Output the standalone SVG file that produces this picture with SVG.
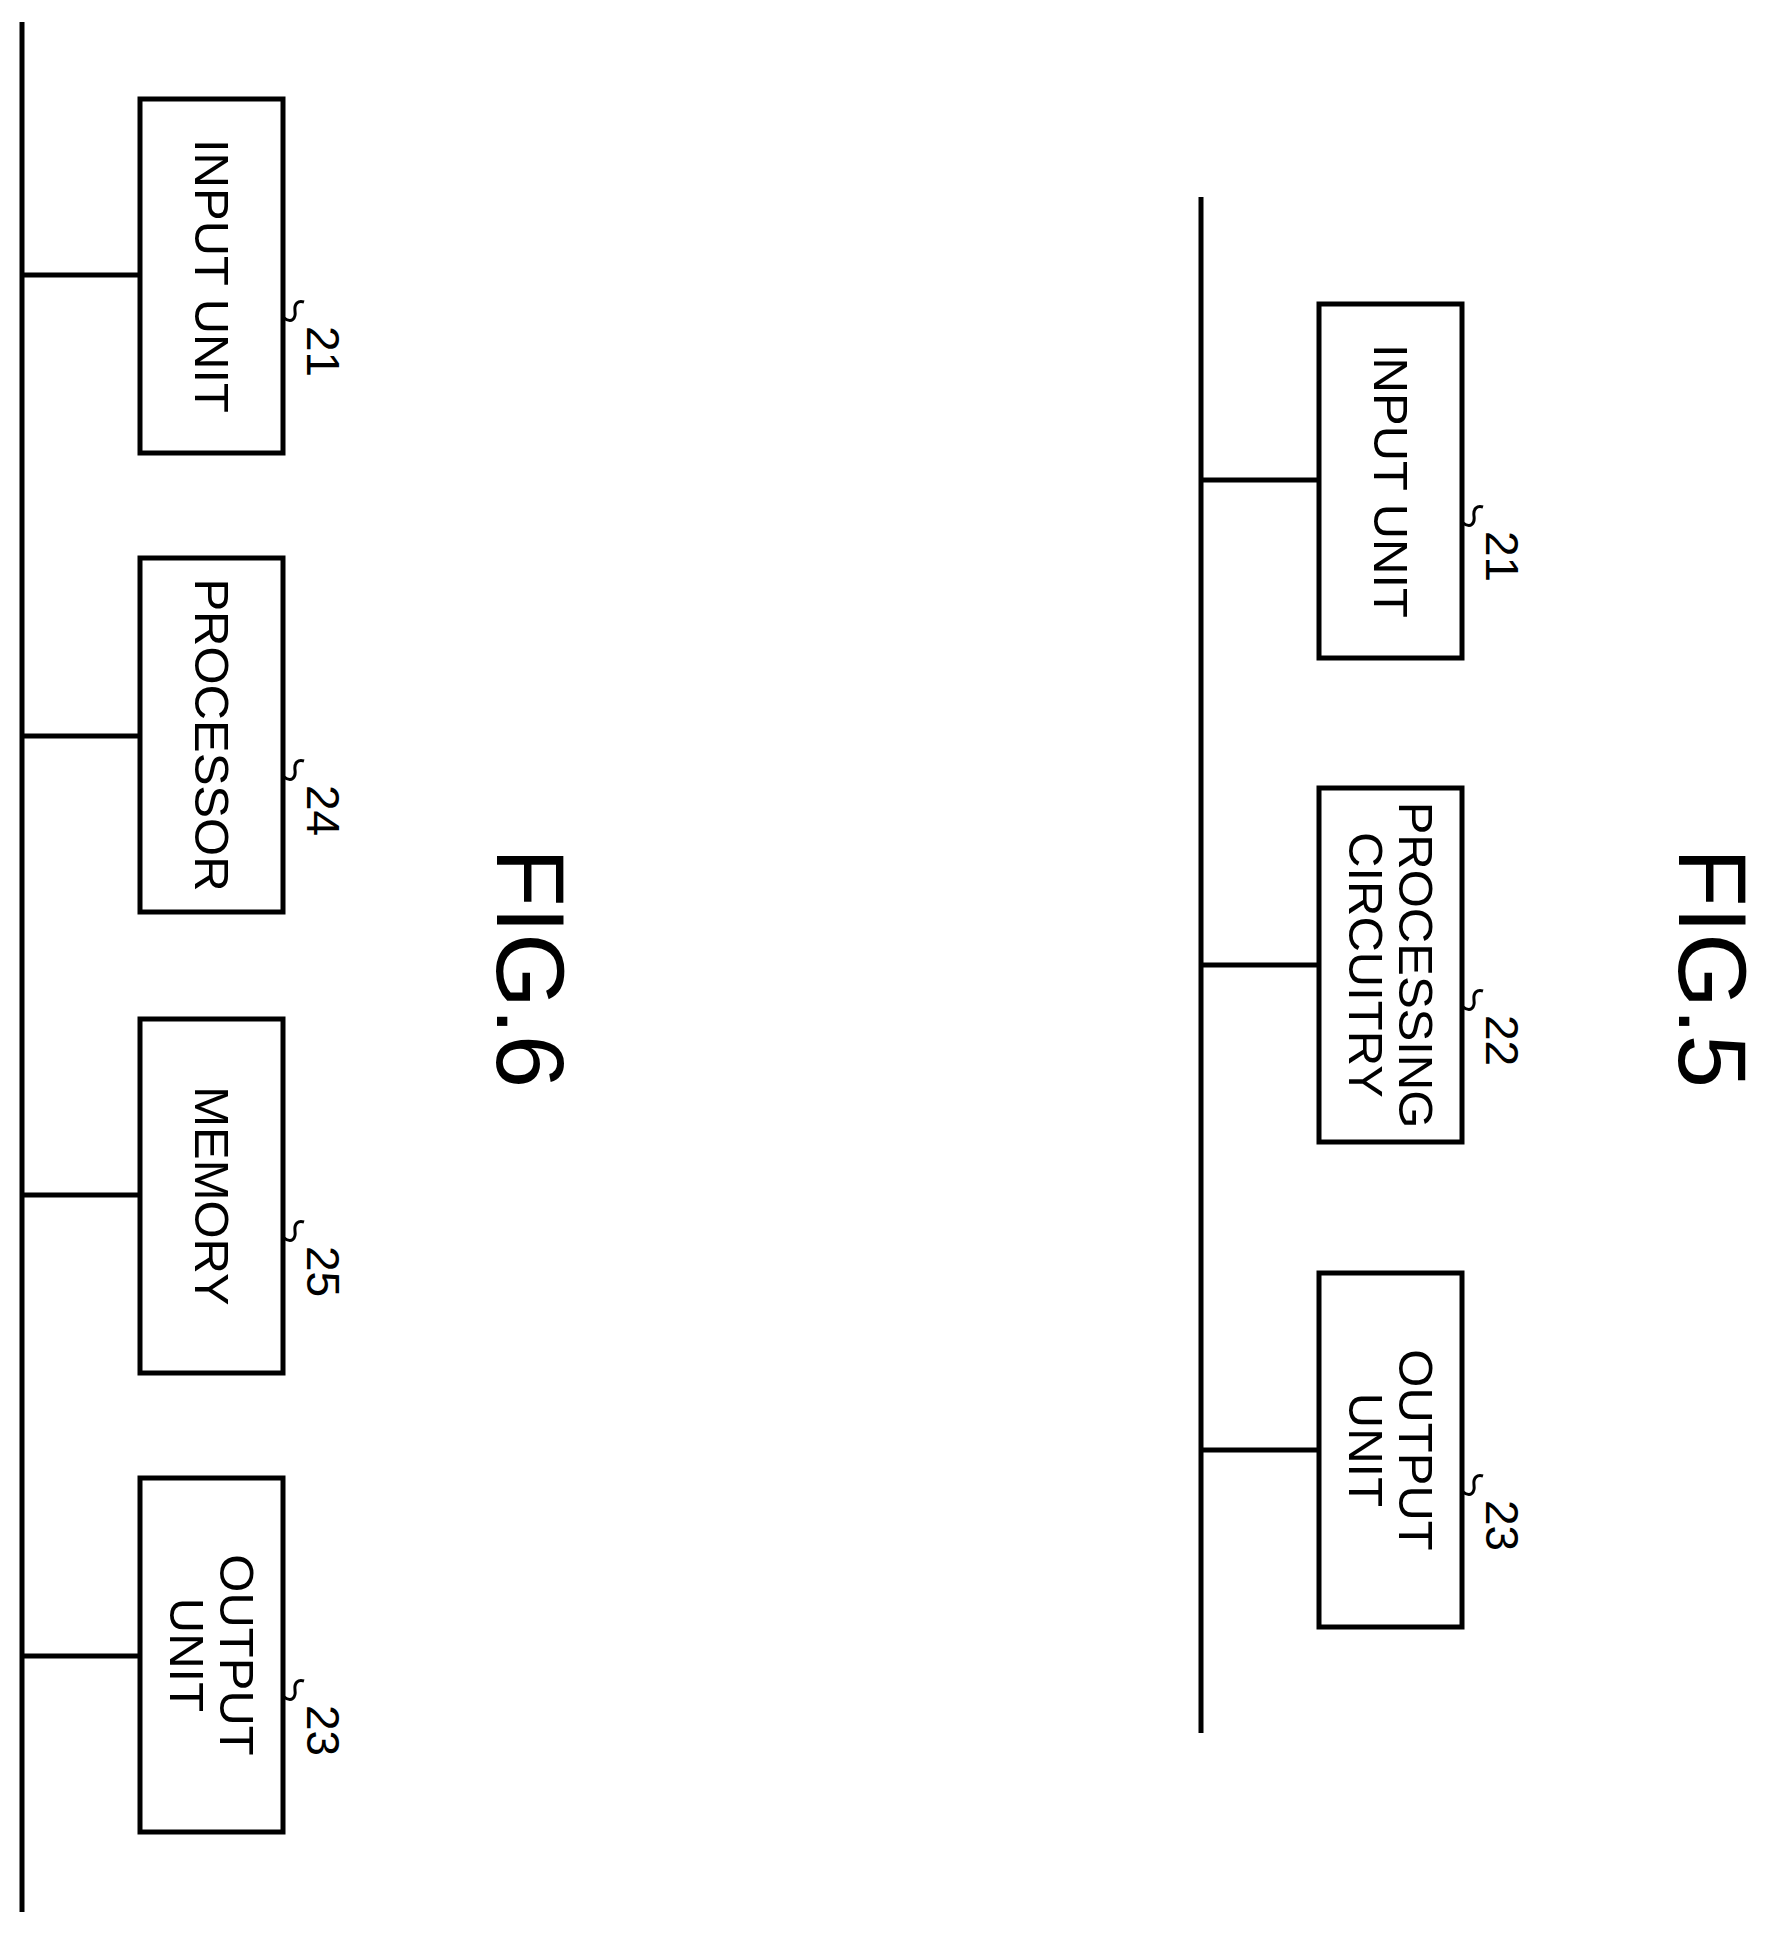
<svg xmlns="http://www.w3.org/2000/svg" width="1774" height="1935" viewBox="0 0 1774 1935">
<style>
.b{fill:#fff;stroke:#000;stroke-width:5}
.l{stroke:#000;stroke-width:5;fill:none}
.s{stroke:#000;stroke-width:3;fill:none}
.t{font-family:"Liberation Sans",Arial,sans-serif;font-size:49px;text-anchor:middle;dominant-baseline:central}
.n{font-family:"Liberation Sans",Arial,sans-serif;font-size:46px;dominant-baseline:central}
.f{font-family:"Liberation Sans",Arial,sans-serif;font-size:96px;text-anchor:middle;dominant-baseline:central}
</style>
<defs><path id="sq" class="s" d="M0,16 C8,22 12,16 11,9 C10,2 14,-2 20,0"/></defs>
<rect width="1774" height="1935" fill="#fff"/>
<g id="connectors">
<line class="l" x1="22" y1="22" x2="22" y2="1912"/>
<line class="l" x1="22" y1="275" x2="140" y2="275"/>
<line class="l" x1="22" y1="736" x2="140" y2="736"/>
<line class="l" x1="22" y1="1195" x2="140" y2="1195"/>
<line class="l" x1="22" y1="1656" x2="140" y2="1656"/>
<line class="l" x1="1201" y1="197" x2="1201" y2="1733"/>
<line class="l" x1="1201" y1="480" x2="1319" y2="480"/>
<line class="l" x1="1201" y1="965" x2="1319" y2="965"/>
<line class="l" x1="1201" y1="1450" x2="1319" y2="1450"/>
</g>
<g id="n21a"><rect class="b" x="140" y="99" width="143" height="354"/>
<text class="t" transform="translate(212,276) rotate(90)">INPUT UNIT</text>
<use href="#sq" x="284" y="302"/>
<text class="n" transform="translate(323,326) rotate(90)">21</text></g>
<g id="n24"><rect class="b" x="140" y="558" width="143" height="354"/>
<text class="t" transform="translate(212,735) rotate(90)">PROCESSOR</text>
<use href="#sq" x="284" y="761"/>
<text class="n" transform="translate(323,785) rotate(90)">24</text></g>
<g id="n25"><rect class="b" x="140" y="1019" width="143" height="354"/>
<text class="t" transform="translate(212,1196) rotate(90)">MEMORY</text>
<use href="#sq" x="284" y="1222"/>
<text class="n" transform="translate(323,1246) rotate(90)">25</text></g>
<g id="n23a"><rect class="b" x="140" y="1478" width="143" height="354"/>
<text class="t" transform="translate(237,1655) rotate(90)">OUTPUT</text>
<text class="t" transform="translate(187,1655) rotate(90)">UNIT</text>
<use href="#sq" x="284" y="1681"/>
<text class="n" transform="translate(323,1705) rotate(90)">23</text></g>
<text class="f" transform="translate(530,968) rotate(90)">FIG.6</text>
<g id="n21b"><rect class="b" x="1319" y="304" width="143" height="354"/>
<text class="t" transform="translate(1391,481) rotate(90)">INPUT UNIT</text>
<use href="#sq" x="1463" y="507"/>
<text class="n" transform="translate(1502,531) rotate(90)">21</text></g>
<g id="n22"><rect class="b" x="1319" y="788" width="143" height="354"/>
<text class="t" transform="translate(1416,965) rotate(90)">PROCESSING</text>
<text class="t" transform="translate(1366,965) rotate(90)">CIRCUITRY</text>
<use href="#sq" x="1463" y="991"/>
<text class="n" transform="translate(1502,1015) rotate(90)">22</text></g>
<g id="n23b"><rect class="b" x="1319" y="1273" width="143" height="354"/>
<text class="t" transform="translate(1416,1450) rotate(90)">OUTPUT</text>
<text class="t" transform="translate(1366,1450) rotate(90)">UNIT</text>
<use href="#sq" x="1463" y="1476"/>
<text class="n" transform="translate(1502,1500) rotate(90)">23</text></g>
<text class="f" transform="translate(1712,968) rotate(90)">FIG.5</text>
</svg>
